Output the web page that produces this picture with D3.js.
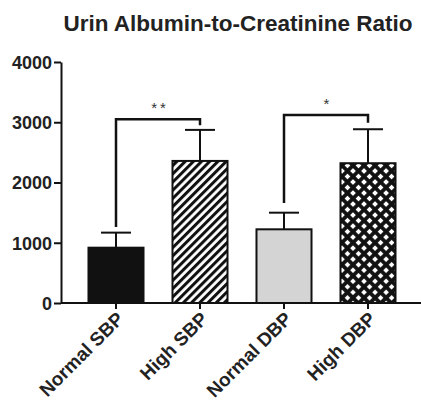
<!DOCTYPE html>
<html>
<head>
<meta charset="utf-8">
<script src="https://cdn.jsdelivr.net/npm/d3@7"></script>
<style>
  body { margin: 0; background: #fff; }
  svg text { font-family: "Liberation Sans", Arial, sans-serif; }
</style>
</head>
<body>
<svg id="chart" width="421" height="400"></svg>
<script>
// values
const categories = ['Normal SBP', 'High SBP', 'Normal DBP', 'High DBP'];
const means = [918, 2358, 1223, 2320];
const errors = [250, 515, 276, 564];
const fills = ['#111', 'url(#hatch)', '#d4d4d4', 'url(#cross)'];
const yTicks = [0, 1000, 2000, 3000, 4000];

const sigPairs = [[0, 1], [2, 3]];
const sigLevel = [3050, 3120];
const sigLegs = [[1260, 2950], [1660, 2990]];
const sigLabel = ['**', '*'];

const svg = d3.select('#chart');

let defs = svg.append('defs');
let hatch = defs.append('pattern')
  .attr('id', 'hatch')
  .attr('patternUnits', 'userSpaceOnUse')
  .attr('width', 5.8).attr('height', 5.8)
  .attr('patternTransform', 'rotate(45)');
hatch.append('rect').attr('width', 5.8).attr('height', 5.8).attr('fill', '#fff');
hatch.append('rect').attr('width', 3).attr('height', 5.8).attr('fill', '#111');

let cross = defs.append('pattern')
  .attr('id', 'cross')
  .attr('patternUnits', 'userSpaceOnUse')
  .attr('width', 7.8).attr('height', 7.8)
  .attr('patternTransform', 'rotate(45)');
cross.append('rect').attr('width', 7.8).attr('height', 7.8).attr('fill', '#111');
cross.append('rect').attr('x', 1.9).attr('y', 1.9).attr('width', 4).attr('height', 4).attr('fill', '#fff');

let x = d3.scaleBand()
  .domain(categories)
  .range([74, 410])
  .paddingInner(0.345)
  .paddingOuter(0.1725);

let y = d3.scaleLinear().domain([0, 4000]).range([303, 62]);

// title
svg.append('text')
  .attr('x', 238).attr('y', 31)
  .attr('text-anchor', 'middle')
  .attr('font-size', 22.5).attr('font-weight', 'bold')
  .attr('fill', '#222')
  .text('Urin Albumin-to-Creatinine Ratio');

// y axis
let yAxis = svg.append('g')
  .attr('transform', 'translate(61,0)')
  .call(d3.axisLeft(y).tickValues(yTicks).tickFormat(d3.format('d')).tickSize(7).tickSizeOuter(0));
yAxis.select('.domain').attr('stroke-width', 2).attr('stroke', '#111');
yAxis.selectAll('.tick line').attr('stroke-width', 2).attr('stroke', '#111');
yAxis.selectAll('.tick text')
  .attr('font-size', 18).attr('font-weight', 'bold')
  .attr('fill', '#222').attr('x', -9).attr('dy', '0.36em')
  .style('font-family', '"Liberation Sans", Arial, sans-serif');

// bars
svg.append('g').selectAll('rect')
  .data(categories)
  .join('rect')
  .attr('x', d => x(d))
  .attr('width', x.bandwidth())
  .attr('y', (d, i) => y(means[i]))
  .attr('height', (d, i) => y(0) - y(means[i]))
  .attr('fill', (d, i) => fills[i])
  .attr('stroke', '#111')
  .attr('stroke-width', 2);

// error bars (upper only)
let eb = svg.append('g').attr('stroke', '#111').attr('stroke-width', 2);
categories.forEach((c, i) => {
  let cx = x(c) + x.bandwidth() / 2;
  eb.append('line')
    .attr('x1', cx).attr('x2', cx)
    .attr('y1', y(means[i])).attr('y2', y(means[i] + errors[i]));
  eb.append('line')
    .attr('x1', cx - 15).attr('x2', cx + 15)
    .attr('y1', y(means[i] + errors[i])).attr('y2', y(means[i] + errors[i]));
});

// x axis
let xAxis = svg.append('g')
  .attr('transform', 'translate(0,303)')
  .call(d3.axisBottom(x).tickSize(6).tickSizeOuter(0));
xAxis.select('.domain').attr('d', 'M61,0H421').attr('stroke-width', 2).attr('stroke', '#111');
xAxis.selectAll('.tick line').attr('stroke-width', 2).attr('stroke', '#111');
xAxis.selectAll('.tick text')
  .attr('font-size', 19).attr('font-weight', 'bold').attr('fill', '#222')
  .attr('text-anchor', 'end')
  .attr('x', 0).attr('y', 0).attr('dy', 0)
  .attr('transform', 'translate(9,17) rotate(-45)')
  .style('font-family', '"Liberation Sans", Arial, sans-serif');

// significance brackets
let sg = svg.append('g');
sigPairs.forEach((p, i) => {
  let x1 = x(categories[p[0]]) + x.bandwidth() / 2;
  let x2 = x(categories[p[1]]) + x.bandwidth() / 2;
  let path = d3.path();
  path.moveTo(x1, y(sigLegs[i][0]));
  path.lineTo(x1, y(sigLevel[i]));
  path.lineTo(x2, y(sigLevel[i]));
  path.lineTo(x2, y(sigLegs[i][1]));
  sg.append('path')
    .attr('d', path.toString())
    .attr('fill', 'none')
    .attr('stroke', '#111')
    .attr('stroke-width', 2.5);
  sg.append('text')
    .attr('x', (x1 + x2) / 2 + 2)
    .attr('y', y(sigLevel[i]) - 6)
    .attr('text-anchor', 'middle')
    .attr('font-size', 15)
    .attr('letter-spacing', 3)
    .attr('fill', '#333')
    .text(sigLabel[i]);
});
</script>
</body>
</html>
